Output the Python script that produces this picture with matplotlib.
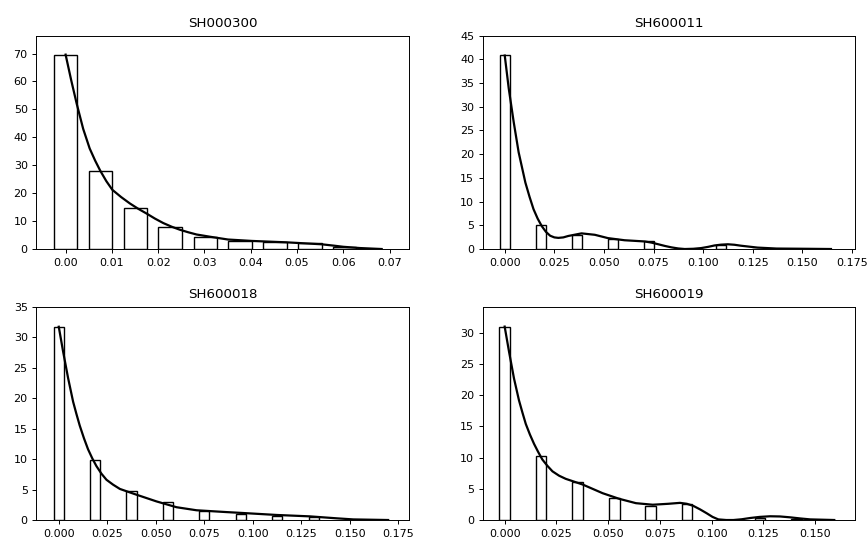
import matplotlib
matplotlib.use('Agg')
import matplotlib.pyplot as plt

plt.rcParams['font.family'] = 'DejaVu Sans'
plt.rcParams['xtick.labelsize'] = 8
plt.rcParams['ytick.labelsize'] = 8
plt.rcParams['axes.linewidth'] = 0.7
plt.rcParams['xtick.major.width'] = 0.7
plt.rcParams['ytick.major.width'] = 0.7
plt.rcParams['xtick.major.size'] = 2.8
plt.rcParams['ytick.major.size'] = 2.8

titles = ['SH000300', 'SH600011', 'SH600018', 'SH600019']

# histogram bars (bin centres and heights)
bins_300 = [0.0, 0.00754, 0.0151, 0.0226, 0.0302, 0.0377, 0.0452, 0.0528, 0.0603]
hist_300 = [69.6, 27.8, 14.6, 8.0, 4.3, 3.0, 2.6, 2.1, 0.9]
bins_011 = [0.0, 0.0182, 0.0363, 0.0545, 0.0727, 0.0908, 0.109, 0.127, 0.145]
hist_011 = [40.9, 5.0, 3.0, 2.1, 1.6, 0.0, 0.8, 0.0, 0.0]
bins_018 = [0.0, 0.0188, 0.0375, 0.0563, 0.0751, 0.0939, 0.1126, 0.1314]
hist_018 = [31.7, 9.8, 4.8, 2.9, 1.55, 1.05, 0.6, 0.45]
bins_019 = [0.0, 0.0176, 0.0353, 0.0529, 0.0705, 0.0881, 0.1057, 0.1233, 0.141]
hist_019 = [31.0, 10.3, 6.05, 3.5, 2.27, 2.5, 0.0, 0.35, 0.2]

# smooth density-like curves
curve_x_300 = [0.0, 0.0012, 0.0024, 0.0038, 0.0052, 0.0064, 0.0075, 0.0088, 0.0101, 0.0120,
               0.0139, 0.0157, 0.0175, 0.0193, 0.0211, 0.0229, 0.0247, 0.0265, 0.0283, 0.0312,
               0.0351, 0.0402, 0.0477, 0.0553, 0.0580, 0.0600, 0.0636, 0.0683]
curve_y_300 = [69.6, 60.5, 52.0, 43.0, 36.0, 31.6, 28.0, 24.3, 21.2, 18.6,
               16.3, 14.4, 12.7, 10.9, 9.3, 8.0, 6.9, 6.0, 5.2, 4.4,
               3.4, 2.9, 2.4, 1.7, 1.2, 0.8, 0.35, 0.0]
curve_x_011 = [0.0, 0.0020, 0.0045, 0.0070, 0.0104, 0.0125, 0.0145, 0.0166, 0.0187, 0.0208,
               0.0229, 0.0250, 0.0270, 0.0295, 0.0320, 0.0387, 0.0454, 0.0520, 0.0604, 0.0704,
               0.0740, 0.0774, 0.0807, 0.0840, 0.0874, 0.0907, 0.0950, 0.0990, 0.1024, 0.1057,
               0.1090, 0.1124, 0.1157, 0.1190, 0.1232, 0.1274, 0.1370, 0.1520, 0.1644]
curve_y_011 = [40.8, 33.9, 26.8, 20.4, 14.0, 11.0, 8.4, 6.4, 4.8, 3.6,
               2.8, 2.45, 2.35, 2.45, 2.75, 3.3, 3.0, 2.3, 1.85, 1.6,
               1.35, 1.0, 0.65, 0.35, 0.12, 0.0, 0.05, 0.2, 0.45, 0.75,
               0.92, 1.0, 0.9, 0.7, 0.5, 0.3, 0.1, 0.05, 0.0]
curve_x_018 = [0.0, 0.0022, 0.0048, 0.0074, 0.0091, 0.0108, 0.0130, 0.0151, 0.0173, 0.0194,
               0.0220, 0.0246, 0.0280, 0.0315, 0.0360, 0.0401, 0.0504, 0.0607, 0.0710, 0.0865,
               0.0950, 0.1123, 0.1294, 0.1432, 0.1518, 0.1698]
curve_y_018 = [31.7, 27.7, 23.3, 19.4, 17.4, 15.5, 13.4, 11.6, 10.1, 8.85,
               7.6, 6.6, 5.8, 5.1, 4.6, 4.15, 3.05, 2.1, 1.6, 1.3,
               1.15, 0.83, 0.6, 0.28, 0.1, 0.0]
curve_x_019 = [0.0, 0.0021, 0.0045, 0.0069, 0.0086, 0.0102, 0.0122, 0.0142, 0.0162, 0.0182,
               0.0206, 0.0231, 0.0263, 0.0295, 0.0376, 0.0473, 0.0553, 0.0634, 0.0715, 0.0790,
               0.0847, 0.0880, 0.0911, 0.0944, 0.0976, 0.1004, 0.1032, 0.1070, 0.1105, 0.1145,
               0.1185, 0.1232, 0.1282, 0.1330, 0.1379, 0.1428, 0.1476, 0.1592]
curve_y_019 = [31.0, 27.0, 22.7, 19.2, 17.2, 15.4, 13.7, 12.2, 10.9, 9.7,
               8.7, 7.8, 7.1, 6.6, 5.7, 4.3, 3.4, 2.7, 2.45, 2.6,
               2.75, 2.6, 2.27, 1.7, 1.08, 0.5, 0.1, 0.0, 0.0, 0.12,
               0.32, 0.5, 0.6, 0.57, 0.43, 0.25, 0.1, 0.0]

bar_widths = [0.0051, 0.0052, 0.0052, 0.0052]
bins_all = [bins_300, bins_011, bins_018, bins_019]
hist_all = [hist_300, hist_011, hist_018, hist_019]
curve_x_all = [curve_x_300, curve_x_011, curve_x_018, curve_x_019]
curve_y_all = [curve_y_300, curve_y_011, curve_y_018, curve_y_019]
xlims = [(-0.0063, 0.0741), (-0.011, 0.1765), (-0.0115, 0.1803), (-0.0105, 0.1692)]
ylims = [(0, 76.4), (0, 44.8), (0, 35), (0, 34.2)]
xticks_all = [[0.00, 0.01, 0.02, 0.03, 0.04, 0.05, 0.06, 0.07],
              [0.000, 0.025, 0.050, 0.075, 0.100, 0.125, 0.150, 0.175],
              [0.000, 0.025, 0.050, 0.075, 0.100, 0.125, 0.150, 0.175],
              [0.000, 0.025, 0.050, 0.075, 0.100, 0.125, 0.150]]
yticks_all = [range(0, 71, 10), range(0, 46, 5), range(0, 36, 5), range(0, 31, 5)]

fig, axes = plt.subplots(2, 2, figsize=(8.68, 5.4), dpi=100)
plt.subplots_adjust(left=0.042, right=0.985, top=0.934, bottom=0.037, wspace=0.2, hspace=0.27)

for i, ax in enumerate(axes.flat):
    ax.bar(bins_all[i], hist_all[i], width=bar_widths[i], color='white',
           edgecolor='black', linewidth=1.0)
    ax.plot(curve_x_all[i], curve_y_all[i], color='black', linewidth=1.6)
    ax.set_xlim(xlims[i])
    ax.set_ylim(ylims[i])
    ax.set_xticks(xticks_all[i])
    ax.set_yticks(yticks_all[i])
    ax.set_title(titles[i], fontsize=9.6)

plt.savefig('out.png')
